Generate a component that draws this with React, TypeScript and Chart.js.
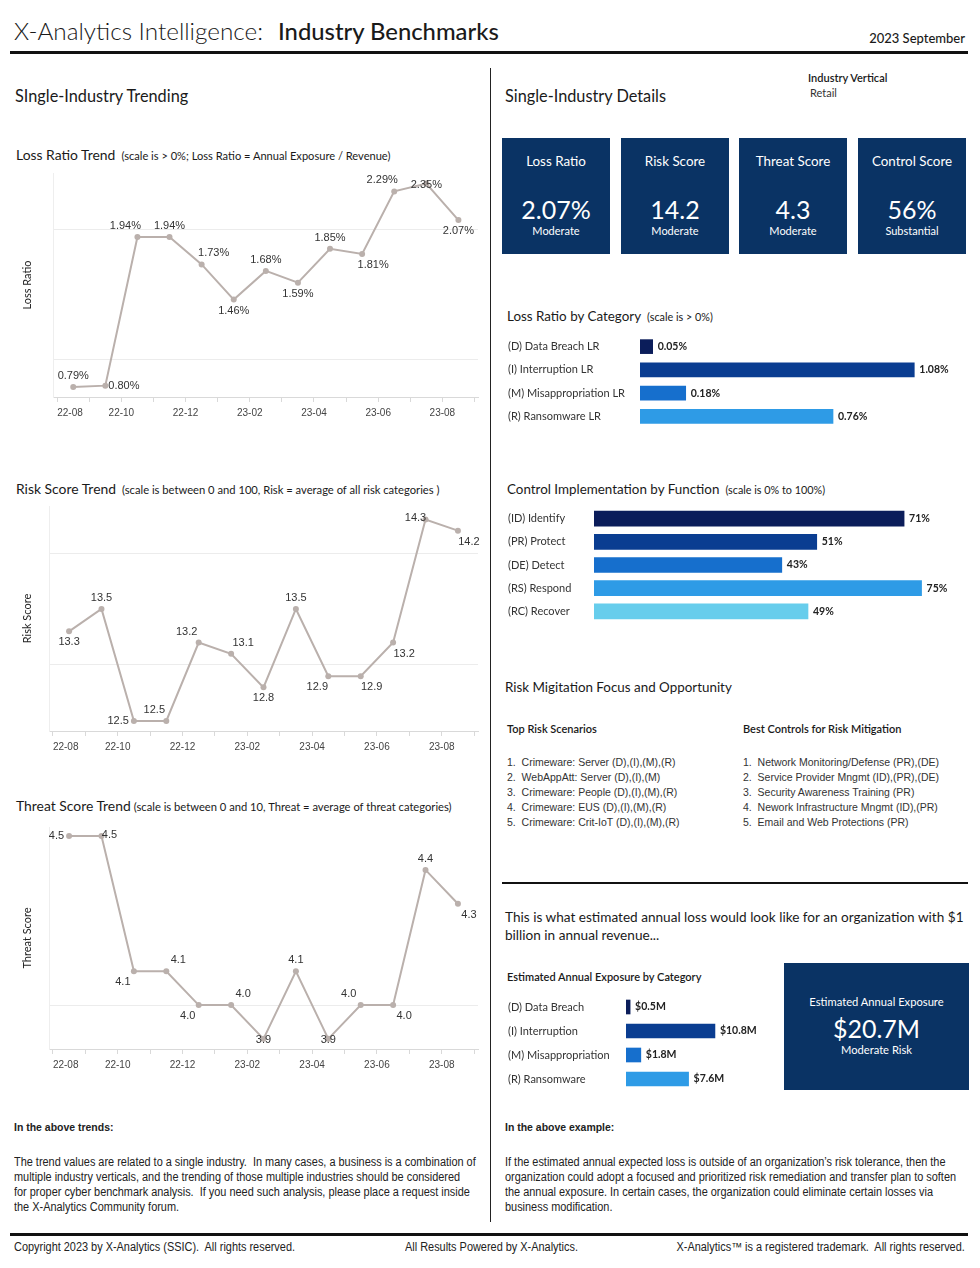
import React, { useEffect, useRef } from 'react';
import { Chart, registerables } from 'chart.js';

Chart.register(...registerables);

// ---------- data ----------
const trendMonths = ['22-08', '22-09', '22-10', '22-11', '22-12', '23-01', '23-02', '23-03', '23-04', '23-05', '23-06', '23-07', '23-08'];
const trendTickLabels = ['22-08', '', '22-10', '', '22-12', '', '23-02', '', '23-04', '', '23-06', '', '23-08', ''];
const lossRatioTrend = [0.79, 0.8, 1.94, 1.94, 1.73, 1.46, 1.68, 1.59, 1.85, 1.81, 2.29, 2.35, 2.07];
const riskScoreTrend = [13.3, 13.5, 12.5, 12.5, 13.2, 13.1, 12.8, 13.5, 12.9, 12.9, 13.2, 14.3, 14.2];
const threatScoreTrend = [4.5, 4.5, 4.1, 4.1, 4.0, 4.0, 3.9, 4.1, 3.9, 4.0, 4.0, 4.4, 4.3];

const kpiTitles = ['Loss Ratio', 'Risk Score', 'Threat Score', 'Control Score'];
const kpiValues = ['2.07%', '14.2', '4.3', '56%'];
const kpiRatings = ['Moderate', 'Moderate', 'Moderate', 'Substantial'];

const lossCategories = ['(D) Data Breach LR', '(I) Interruption LR', '(M) Misappropriation LR', '(R) Ransomware LR'];
const lossCategoryValues = [0.05, 1.08, 0.18, 0.76];

const controlFunctions = ['(ID) Identify', '(PR) Protect', '(DE) Detect', '(RS) Respond', '(RC) Recover'];
const controlValues = [71, 51, 43, 75, 49];

const exposureCategories = ['(D) Data Breach', '(I) Interruption', '(M) Misappropriation', '(R) Ransomware'];
const exposureValues = [0.5, 10.8, 1.8, 7.6];

const topRiskScenarios = [
  'Crimeware: Server (D),(I),(M),(R)',
  'WebAppAtt: Server (D),(I),(M)',
  'Crimeware: People (D),(I),(M),(R)',
  'Crimeware: EUS (D),(I),(M),(R)',
  'Crimeware: Crit-IoT (D),(I),(M),(R)',
];
const bestControls = [
  'Network Monitoring/Defense (PR),(DE)',
  'Service Provider Mngmt (ID),(PR),(DE)',
  'Security Awareness Training (PR)',
  'Nework Infrastructure Mngmt (ID),(PR)',
  'Email and Web Protections (PR)',
];

// ---------- styles ----------
const LINE = '#bab0ac';
const NAVY = '#0a3364';
const UI = 'Lato, "Noto Sans", sans-serif';
const NUM = '"Liberation Sans", Arial, sans-serif';
const lossBarColors = ['#0b1d5a', '#0a3d91', '#166fcd', '#2e9be6'];
const controlBarColors = ['#0b1d5a', '#0a3d91', '#166fcd', '#2e9be6', '#67cdec'];

const lossLabelPlacement = ['above', 'right', 'aboveLeft', 'above', 'aboveRight', 'below', 'above', 'below', 'above', 'belowRight', 'aboveLeft', 'on', 'below'];
const riskLabelPlacement = ['below', 'above', 'left', 'aboveLeft', 'aboveLeft', 'aboveRight', 'below', 'above', 'belowLeft', 'belowRight', 'belowRight', 'onLeft', 'belowRight'];
const threatLabelPlacement = ['left', 'onRight', 'belowLeft', 'aboveRight', 'belowLeft', 'aboveRight', 'on', 'above', 'on', 'aboveLeft', 'belowRight', 'above', 'belowRight'];

const PLACE: Record<string, { dx: number; dy: number; align: CanvasTextAlign }> = {
  above: { dx: 0, dy: -11, align: 'center' },
  below: { dx: 0, dy: 11, align: 'center' },
  aboveLeft: { dx: -12, dy: -11, align: 'center' },
  aboveRight: { dx: 12, dy: -11, align: 'center' },
  belowLeft: { dx: -11, dy: 11, align: 'center' },
  belowRight: { dx: 11, dy: 11, align: 'center' },
  left: { dx: -5, dy: 0, align: 'right' },
  right: { dx: 3, dy: 0, align: 'left' },
  on: { dx: 0, dy: 1, align: 'center' },
  onLeft: { dx: -10, dy: -1, align: 'center' },
  onRight: { dx: 8, dy: -1, align: 'center' },
};

const pointLabelPlugin = {
  id: 'pointLabels',
  afterDatasetsDraw(chart: any, _args: any, opts: any) {
    const meta = chart.getDatasetMeta(0);
    const ctx = chart.ctx;
    ctx.save();
    ctx.font = `11px ${NUM}`;
    ctx.fillStyle = '#333';
    ctx.textBaseline = 'middle';
    meta.data.forEach((el: any, i: number) => {
      const raw = chart.data.datasets[0].data[i];
      const p = PLACE[opts.placement[i]] || PLACE.above;
      ctx.textAlign = p.align;
      ctx.fillText(opts.format(raw.y), el.x + p.dx, el.y + p.dy);
    });
    ctx.restore();
  },
};

const barValuePlugin = {
  id: 'barValues',
  afterDatasetsDraw(chart: any, _args: any, opts: any) {
    const meta = chart.getDatasetMeta(0);
    const ctx = chart.ctx;
    ctx.save();
    ctx.font = `bold 10.5px ${UI}`;
    ctx.fillStyle = '#222';
    ctx.textBaseline = 'middle';
    ctx.textAlign = 'left';
    meta.data.forEach((el: any, i: number) => {
      ctx.fillText(opts.format(chart.data.datasets[0].data[i]), el.x + 5, el.y);
    });
    ctx.restore();
  },
};

function TrendChart(props: any) {
  const { left, top, width, height, values, placement, yMin, yMax, xMin, xMax, yTitle, format, axisWidth, padTop } = props;
  const ref = useRef<HTMLCanvasElement>(null);
  useEffect(() => {
    const chart = new Chart(ref.current as HTMLCanvasElement, {
      type: 'line',
      data: {
        datasets: [
          {
            data: values.map((v: number, i: number) => ({ x: i + 0.5, y: v })),
            borderColor: LINE,
            backgroundColor: LINE,
            borderWidth: 2,
            pointRadius: 3,
            pointBorderWidth: 0,
            pointBackgroundColor: LINE,
            tension: 0,
          },
        ],
      },
      options: {
        animation: false,
        responsive: false,
        maintainAspectRatio: false,
        layout: { padding: { top: padTop, right: 6, left: 0, bottom: 0 } },
        plugins: {
          legend: { display: false },
          tooltip: { enabled: false },
          pointLabels: { placement, format },
        } as any,
        scales: {
          x: {
            type: 'linear',
            min: xMin,
            max: xMax,
            ticks: {
              stepSize: 1,
              includeBounds: false,
              autoSkip: false,
              maxRotation: 0,
              align: 'inner',
              padding: 5,
              font: { family: NUM, size: 10 },
              color: '#444',
              callback: (v: any) => trendTickLabels[v] ?? '',
            },
            grid: { drawOnChartArea: false, drawTicks: true, tickLength: 5, color: '#d9d9d9' },
            border: { display: true, color: '#d9d9d9' },
            afterFit: (s: any) => {
              s.height = 23;
              s.paddingLeft = 0;
              s.paddingRight = 0;
            },
          },
          y: {
            min: yMin,
            max: yMax,
            ticks: { display: false, stepSize: 1, includeBounds: false },
            grid: { color: '#ececec', drawTicks: false },
            border: { display: true, color: '#eeeeee' },
            title: { display: true, text: yTitle, font: { family: UI, size: 11 }, color: '#222', padding: { top: 7, bottom: 0 } },
            afterFit: (s: any) => {
              s.width = axisWidth;
              s.paddingTop = 0;
              s.paddingBottom = 0;
            },
          },
        } as any,
      },
      plugins: [pointLabelPlugin],
    } as any);
    return () => chart.destroy();
  }, []);
  return <canvas ref={ref} width={width} height={height} style={{ position: 'absolute', left, top, width, height }} />;
}

function HBarChart(props: any) {
  const { left, top, width, height, labels, values, colors, max, axisWidth, format, thickness } = props;
  const ref = useRef<HTMLCanvasElement>(null);
  useEffect(() => {
    const chart = new Chart(ref.current as HTMLCanvasElement, {
      type: 'bar',
      data: {
        labels,
        datasets: [{ data: values, backgroundColor: colors, barThickness: thickness, borderWidth: 0 }],
      },
      options: {
        indexAxis: 'y',
        animation: false,
        responsive: false,
        maintainAspectRatio: false,
        layout: { padding: 0 },
        plugins: {
          legend: { display: false },
          tooltip: { enabled: false },
          barValues: { format },
        } as any,
        scales: {
          x: { display: false, min: 0, max },
          y: {
            grid: { display: false },
            border: { display: false },
            ticks: { crossAlign: 'far', padding: 0, font: { family: UI, size: 11 }, color: '#333' },
            afterFit: (s: any) => {
              s.width = axisWidth;
              s.paddingTop = 0;
              s.paddingBottom = 0;
            },
          },
        } as any,
      },
      plugins: [barValuePlugin],
    } as any);
    return () => chart.destroy();
  }, []);
  return <canvas ref={ref} width={width} height={height} style={{ position: 'absolute', left, top, width, height }} />;
}

function Txt(props: any) {
  const { left, top, right, size = 11, weight = 400, family = UI, color = '#1a1a1a', lh, children, style } = props;
  return (
    <div
      style={{
        position: 'absolute',
        left,
        top,
        right,
        fontSize: size,
        fontWeight: weight,
        fontFamily: family,
        color,
        lineHeight: `${lh ?? Math.round(size * 1.25)}px`,
        whiteSpace: 'pre',
        ...style,
      }}
    >
      {children}
    </div>
  );
}

// condensed text: regular sans squeezed horizontally (no condensed face installed)
function Narrow(props: any) {
  const { left, right, top, size = 12, weight = 400, lh = 15, children, color = '#222' } = props;
  return (
    <Txt
      left={left}
      right={right}
      top={top}
      size={size}
      weight={weight}
      lh={lh}
      family={NUM}
      color={color}
      style={{ transform: 'scaleX(0.91)', transformOrigin: right !== undefined ? 'right top' : 'left top' }}
    >
      {children}
    </Txt>
  );
}

function Rule(props: any) {
  const { left, top, width, height, color = '#111' } = props;
  return <div style={{ position: 'absolute', left, top, width, height, background: color }} />;
}

export default function App() {
  const tileLefts = [502, 621, 739, 858];
  return (
    <div style={{ position: 'absolute', left: 0, top: 0, width: 980, height: 1268, background: '#fff', overflow: 'hidden', fontFamily: UI }}>
      {/* header */}
      <Txt left={14} top={16} size={24.3} lh={29} weight={300}>
        X-Analytics Intelligence:<span style={{ fontWeight: 500, fontSize: 23.8, marginLeft: 15 }}>Industry Benchmarks</span>
      </Txt>
      <Txt right={15} top={30} size={13} lh={16} weight={500}>2023 September</Txt>
      <Rule left={10} top={51} width={958} height={3} />
      <Rule left={490} top={68} width={1} height={1154} color="#222" />

      <Txt left={15} top={86} size={16.3} lh={20}>SIngle-Industry Trending</Txt>
      <Txt left={505} top={86} size={16.3} lh={20}>Single-Industry Details</Txt>
      <Txt left={808} top={71} size={11} lh={14} weight={600}>Industry Vertical</Txt>
      <Txt left={810} top={86} size={11} lh={14} color="#333">Retail</Txt>

      {/* left trend charts */}
      <Txt left={16} top={147} size={13.9} lh={16}>
        Loss Ratio Trend<span style={{ fontSize: 11.1, marginLeft: 6 }}>(scale is &gt; 0%; Loss Ratio = Annual Exposure / Revenue)</span>
      </Txt>
      <TrendChart
        left={14}
        top={165}
        width={470}
        height={255}
        padTop={8}
        axisWidth={39}
        values={lossRatioTrend}
        placement={lossLabelPlacement}
        xMin={-0.13}
        xMax={13.11}
        yMin={0.713}
        yMax={2.431}
        yTitle="Loss Ratio"
        format={(v: number) => `${v.toFixed(2)}%`}
      />

      <Txt left={16} top={481} size={13.9} lh={16}>
        Risk Score Trend<span style={{ fontSize: 11.2, marginLeft: 6 }}>(scale is between 0 and 100, Risk = average of all risk categories )</span>
      </Txt>
      <TrendChart
        left={14}
        top={498}
        width={470}
        height={256}
        padTop={8}
        axisWidth={35}
        values={riskScoreTrend}
        placement={riskLabelPlacement}
        xMin={-0.12}
        xMax={13.12}
        yMin={12.41}
        yMax={14.42}
        yTitle="Risk Score"
        format={(v: number) => v.toFixed(1)}
      />

      <Txt left={16} top={798} size={13.9} lh={16}>
        Threat Score Trend<span style={{ fontSize: 11.2, marginLeft: 3 }}>(scale is between 0 and 10, Threat = average of threat categories)</span>
      </Txt>
      <TrendChart
        left={14}
        top={819}
        width={470}
        height={253}
        padTop={8}
        axisWidth={35}
        values={threatScoreTrend}
        placement={threatLabelPlacement}
        xMin={-0.12}
        xMax={13.12}
        yMin={3.87}
        yMax={4.527}
        yTitle="Threat Score"
        format={(v: number) => v.toFixed(1)}
      />

      {/* KPI tiles */}
      {kpiTitles.map((t, i) => (
        <div key={t} style={{ position: 'absolute', left: tileLefts[i], top: 138, width: 108, height: 116, background: NAVY, color: '#fff', textAlign: 'center', fontFamily: UI }}>
          <div style={{ position: 'absolute', left: 0, right: 0, top: 15, fontSize: 13.4, lineHeight: '17px' }}>{t}</div>
          <div style={{ position: 'absolute', left: 0, right: 0, top: 56, fontSize: 25, lineHeight: '30px' }}>{kpiValues[i]}</div>
          <div style={{ position: 'absolute', left: 0, right: 0, top: 86, fontSize: 11, lineHeight: '14px' }}>{kpiRatings[i]}</div>
        </div>
      ))}

      {/* loss ratio by category */}
      <Txt left={507} top={308} size={13.4} lh={16}>
        Loss Ratio by Category<span style={{ fontSize: 10.8, marginLeft: 6 }}>(scale is &gt; 0%)</span>
      </Txt>
      <HBarChart
        left={508}
        top={335}
        width={452}
        height={93}
        labels={lossCategories}
        values={lossCategoryValues}
        colors={lossBarColors}
        max={1.26}
        axisWidth={132}
        thickness={14}
        format={(v: number) => `${v.toFixed(2)}%`}
      />

      <Txt left={507} top={481} size={13.4} lh={16}>
        Control Implementation by Function<span style={{ fontSize: 10.8, marginLeft: 6 }}>(scale is 0% to 100%)</span>
      </Txt>
      <HBarChart
        left={508}
        top={507}
        width={452}
        height={116}
        labels={controlFunctions}
        values={controlValues}
        colors={controlBarColors}
        max={83.8}
        axisWidth={86}
        thickness={15}
        format={(v: number) => `${v}%`}
      />

      {/* risk mitigation */}
      <Txt left={505} top={679} size={13.4} lh={16}>Risk Migitation Focus and Opportunity</Txt>
      <Txt left={507} top={722} size={11} lh={14} weight={600}>Top Risk Scenarios</Txt>
      <Txt left={743} top={722} size={11} lh={14} weight={600}>Best Controls for Risk Mitigation</Txt>
      {topRiskScenarios.map((s, i) => (
        <Txt key={s} left={507} top={755 + i * 15} size={10.5} lh={15} family={NUM} color="#333">
          {`${i + 1}.  ${s}`}
        </Txt>
      ))}
      {bestControls.map((s, i) => (
        <Txt key={s} left={743} top={755 + i * 15} size={10.5} lh={15} family={NUM} color="#333">
          {`${i + 1}.  ${s}`}
        </Txt>
      ))}

      <Rule left={502} top={882} width={466} height={1.5} />

      <Txt left={505} top={909} size={13.6} lh={17.5}>
        {'This is what estimated annual loss would look like for an organization with $1\nbillion in annual revenue...'}
      </Txt>
      <Txt left={507} top={970} size={11} lh={14} weight={600}>Estimated Annual Exposure by Category</Txt>
      <HBarChart
        left={508}
        top={995}
        width={272}
        height={96}
        labels={exposureCategories}
        values={exposureValues}
        colors={lossBarColors}
        max={18.7}
        axisWidth={118}
        thickness={14}
        format={(v: number) => `$${v.toFixed(1)}M`}
      />
      <div style={{ position: 'absolute', left: 784, top: 963, width: 185, height: 127, background: NAVY, color: '#fff', textAlign: 'center', fontFamily: UI }}>
        <div style={{ position: 'absolute', left: 0, right: 0, top: 32, fontSize: 11.2, lineHeight: '14px' }}>Estimated Annual Exposure</div>
        <div style={{ position: 'absolute', left: 0, right: 0, top: 50, fontSize: 25, lineHeight: '30px' }}>$20.7M</div>
        <div style={{ position: 'absolute', left: 0, right: 0, top: 80, fontSize: 11.2, lineHeight: '14px' }}>Moderate Risk</div>
      </div>

      {/* notes */}
      <Narrow left={14} top={1120} size={11.5} lh={14} weight={700}>In the above trends:</Narrow>
      <Narrow left={14} top={1155} size={12} lh={15}>
        {'The trend values are related to a single industry.  In many cases, a business is a combination of\nmultiple industry verticals, and the trending of those multiple industries should be considered\nfor proper cyber benchmark analysis.  If you need such analysis, please place a request inside\nthe X-Analytics Community forum.'}
      </Narrow>
      <Narrow left={505} top={1120} size={11.5} lh={14} weight={700}>In the above example:</Narrow>
      <Narrow left={505} top={1155} size={12} lh={15}>
        {'If the estimated annual expected loss is outside of an organization\u2019s risk tolerance, then the\norganization could adopt a focused and prioritized risk remediation and transfer plan to soften\nthe annual exposure. In certain cases, the organization could eliminate certain losses via\nbusiness modification.'}
      </Narrow>

      {/* footer */}
      <Rule left={10} top={1233} width={958} height={3} />
      <Narrow left={14} top={1240} size={12} lh={14}>Copyright 2023 by X-Analytics (SSIC).  All rights reserved.</Narrow>
      <Narrow left={405} top={1240} size={12} lh={14}>All Results Powered by X-Analytics.</Narrow>
      <Narrow right={15} top={1240} size={12} lh={14}>X-Analytics™ is a registered trademark.  All rights reserved.</Narrow>
    </div>
  );
}
